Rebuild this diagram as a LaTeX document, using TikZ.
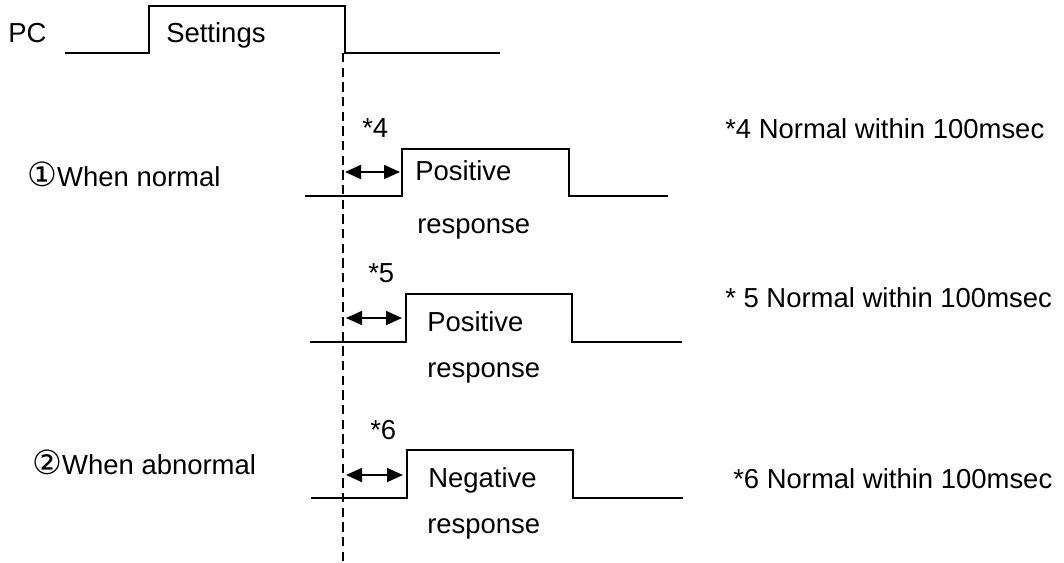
\documentclass[tikz,border=0pt]{standalone}
\usepackage{fontspec}
\setmainfont{Liberation Sans}
\newfontfamily\circfont{DejaVu Sans}
\usepackage{tikz}
\usetikzlibrary{arrows.meta,positioning}

\begin{document}
\begin{tikzpicture}[
    x=0.75pt,y=-0.75pt,
    lbl/.style={anchor=base west,inner sep=0pt,font=\fontsize{20.6}{24}\selectfont},
    wave/.style={line width=1.2pt,line join=miter},
    marker/.style={dash pattern=on 7pt off 4pt,line width=1.1pt},
    gap/.style={{Triangle[length=12pt,width=10.5pt]}-{Triangle[length=12pt,width=10.5pt]},line width=1.2pt}
]
\useasboundingbox (0,0) rectangle (1064,562);
% PC request
\node[lbl] (pc) at (8,42) {PC};
\node[lbl] (set) at (166,42) {Settings};
\draw[wave] (65,53) -- (149,53) -- (149,6) -- (345,6) -- (345,53) -- (500,53);
\coordinate (t0) at (343,53);
\coordinate (tend) at (343,562);
\draw[marker] (t0) -- (tend);
% normal, first response
\node[lbl] (case1) at (27,186) {{\circfont\fontsize{25}{28}\selectfont ①}When normal};
\node[lbl] (n4) at (362,137) {*4};
\draw[wave] (305,196) -- (402,196) -- (402,149) -- (569,149) -- (569,196) -- (668,196);
\node[lbl] (pos1) at (415,180) {Positive};
\node[lbl] (resp1) at (417,233) {response};
\coordinate (a1) at (345,172);
\coordinate (b1) at (400,172);
\draw[gap] (a1) -- (b1);
\node[lbl] (note4) at (725,138) {*4 Normal within 100msec};
% normal, second response
\node[lbl] (n5) at (368,282) {*5};
\draw[wave] (310,342) -- (406,342) -- (406,294) -- (572,294) -- (572,342) -- (682,342);
\node[lbl] (pos2) at (427,331) {Positive};
\node[lbl] (resp2) at (427,377) {response};
\coordinate (a2) at (346,318);
\coordinate (b2) at (402,318);
\draw[gap] (a2) -- (b2);
\node[lbl] (note5) at (725,307) {* 5 Normal within 100msec};
% abnormal
\node[lbl] (case2) at (32,474) {{\circfont\fontsize{25}{28}\selectfont ②}When abnormal};
\node[lbl] (n6) at (370,439) {*6};
\draw[wave] (311,498) -- (407,498) -- (407,450) -- (573,450) -- (573,498) -- (683,498);
\node[lbl] (neg) at (428,487) {Negative};
\node[lbl] (resp3) at (427,533) {response};
\coordinate (a3) at (346,475);
\coordinate (b3) at (403,475);
\draw[gap] (a3) -- (b3);
\node[lbl] (note6) at (733,488) {*6 Normal within 100msec};
\end{tikzpicture}
\end{document}
